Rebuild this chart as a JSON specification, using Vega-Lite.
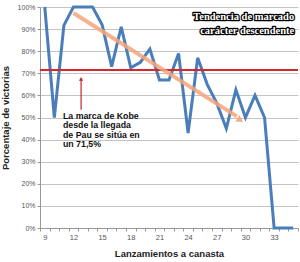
{
  "$schema": "https://vega.github.io/schema/vega-lite/v6.json",
  "width": 258,
  "height": 221,
  "autosize": {"type": "none"},
  "padding": {"left": 40, "top": 7, "right": 2, "bottom": 34},
  "background": "white",
  "config": {
    "view": {"stroke": null},
    "font": "Liberation Sans",
    "axis": {"labelFont": "Liberation Sans", "titleFont": "Liberation Sans"}
  },
  "datasets": {
    "wins": [
      {"x": 9, "y": 1.0}, {"x": 10, "y": 0.5}, {"x": 11, "y": 0.917}, {"x": 12, "y": 1.0},
      {"x": 13, "y": 1.0}, {"x": 14, "y": 1.0}, {"x": 15, "y": 0.92}, {"x": 16, "y": 0.73},
      {"x": 17, "y": 0.91}, {"x": 18, "y": 0.725}, {"x": 19, "y": 0.75}, {"x": 20, "y": 0.81},
      {"x": 21, "y": 0.67}, {"x": 22, "y": 0.67}, {"x": 23, "y": 0.79}, {"x": 24, "y": 0.43},
      {"x": 25, "y": 0.77}, {"x": 26, "y": 0.65}, {"x": 27, "y": 0.565}, {"x": 28, "y": 0.45},
      {"x": 29, "y": 0.625}, {"x": 30, "y": 0.5}, {"x": 31, "y": 0.6}, {"x": 32, "y": 0.5},
      {"x": 33, "y": 0.0}, {"x": 34, "y": 0.0}, {"x": 35, "y": 0.0}
    ],
    "ticks": [
      {"x": 8.5, "y": 0}, {"x": 35.5, "y": 0}
    ],
    "trend": [{"x": 12.0, "y": 0.973}, {"x": 29.1, "y": 0.505}],
    "trendHead": [{"x": 29.45, "y": 0.488}],
    "kobe": [{"y": 0.715}],
    "arrow": [{"x": 12.8, "y": 0.535}, {"x": 12.8, "y": 0.67}],
    "arrowHead": [{"x": 12.8, "y": 0.675}],
    "note": [{"x": 10.9, "y": 0.527, "label": "La marca de Kobe\ndesde la llegada\nde Pau se sitúa en\nun 71,5%"}],
    "title": [
      {"x": 35.1, "y": 0.957, "label": "Tendencia de marcado"},
      {"x": 35.1, "y": 0.89, "label": "carácter descendente"}
    ]
  },
  "encoding": {
    "y": {
      "field": "y", "type": "quantitative",
      "scale": {"domain": [0, 1], "nice": false},
      "axis": {
        "values": [0, 0.1, 0.2, 0.3, 0.4, 0.5, 0.6, 0.7, 0.8, 0.9, 1.0],
        "format": ".0%", "grid": true, "gridColor": "#c4c4c4", "gridWidth": 1,
        "domainColor": "#999", "tickColor": "#999", "tickSize": 3,
        "labelFontSize": 7, "labelColor": "#555", "labelPadding": 2,
        "title": "Porcentaje de victorias", "titleFontSize": 9.5, "titleFontWeight": "bold",
        "titleColor": "#222", "titlePadding": 7
      }
    }
  },
  "layer": [
    {
      "data": {"name": "wins"},
      "mark": {"type": "line", "color": "#4a7ebb", "strokeWidth": 3, "strokeJoin": "miter"},
      "encoding": {
        "x": {
          "field": "x", "type": "quantitative",
          "scale": {"domain": [8.5, 35.5], "nice": false, "zero": false},
          "axis": {
            "values": [9, 12, 15, 18, 21, 24, 27, 30, 33],
            "ticks": false, "domain": false, "grid": false,
            "labelFontSize": 7.5, "labelColor": "#555", "labelPadding": 5,
            "title": "Lanzamientos a canasta", "titleFontSize": 9.5, "titleFontWeight": "bold",
            "titleColor": "#222", "titlePadding": 8
          }
        }
      }
    },
    {
      "data": {"name": "ticks"},
      "mark": {"type": "point", "opacity": 0},
      "encoding": {
        "x": {
          "field": "x", "type": "quantitative",
          "scale": {"domain": [8.5, 35.5], "nice": false, "zero": false},
          "axis": {
            "values": [8.5, 9.5, 10.5, 11.5, 12.5, 13.5, 14.5, 15.5, 16.5, 17.5, 18.5, 19.5, 20.5, 21.5, 22.5, 23.5, 24.5, 25.5, 26.5, 27.5, 28.5, 29.5, 30.5, 31.5, 32.5, 33.5, 34.5, 35.5],
            "labels": false, "ticks": true, "tickSize": 3, "tickColor": "#999",
            "domain": true, "domainColor": "#999", "grid": false, "title": null, "orient": "bottom"
          }
        }
      }
    },
    {
      "data": {"name": "kobe"},
      "mark": {"type": "rule", "color": "#d9262b", "strokeWidth": 2},
      "encoding": {}
    },
    {
      "data": {"name": "trend"},
      "mark": {"type": "line", "color": "#f5a47a", "strokeWidth": 4, "opacity": 0.85},
      "encoding": {
        "x": {"field": "x", "type": "quantitative", "scale": {"domain": [8.5, 35.5], "nice": false, "zero": false}, "axis": null}
      }
    },
    {
      "data": {"name": "trendHead"},
      "mark": {"type": "point", "shape": "triangle-right", "filled": true, "color": "#f5a47a", "opacity": 0.9, "size": 60, "angle": 33},
      "encoding": {
        "x": {"field": "x", "type": "quantitative", "scale": {"domain": [8.5, 35.5], "nice": false, "zero": false}, "axis": null}
      }
    },
    {
      "data": {"name": "arrow"},
      "mark": {"type": "line", "color": "#c0262b", "strokeWidth": 1.2},
      "encoding": {
        "x": {"field": "x", "type": "quantitative", "scale": {"domain": [8.5, 35.5], "nice": false, "zero": false}, "axis": null}
      }
    },
    {
      "data": {"name": "arrowHead"},
      "mark": {"type": "point", "shape": "triangle-up", "filled": true, "color": "#c0262b", "opacity": 1, "size": 18},
      "encoding": {
        "x": {"field": "x", "type": "quantitative", "scale": {"domain": [8.5, 35.5], "nice": false, "zero": false}, "axis": null}
      }
    },
    {
      "data": {"name": "note"},
      "mark": {"type": "text", "align": "left", "baseline": "top", "lineBreak": "\n", "lineHeight": 9.6, "fontSize": 8.8, "fontWeight": "bold", "color": "#111"},
      "encoding": {
        "x": {"field": "x", "type": "quantitative", "scale": {"domain": [8.5, 35.5], "nice": false, "zero": false}, "axis": null},
        "text": {"field": "label"}
      }
    },
    {
      "data": {"name": "title"},
      "mark": {"type": "text", "align": "right", "baseline": "middle", "fontSize": 10.5, "fontWeight": "bold", "font": "Liberation Sans Narrow", "color": "#000", "stroke": "#000", "strokeWidth": 2.5, "strokeJoin": "round"},
      "encoding": {
        "x": {"field": "x", "type": "quantitative", "scale": {"domain": [8.5, 35.5], "nice": false, "zero": false}, "axis": null},
        "text": {"field": "label"}
      }
    },
    {
      "data": {"name": "title"},
      "mark": {"type": "text", "align": "right", "baseline": "middle", "fontSize": 10.5, "fontWeight": "bold", "font": "Liberation Sans Narrow", "color": "#fff"},
      "encoding": {
        "x": {"field": "x", "type": "quantitative", "scale": {"domain": [8.5, 35.5], "nice": false, "zero": false}, "axis": null},
        "text": {"field": "label"}
      }
    }
  ],
  "resolve": {"axis": {"x": "independent"}}
}
